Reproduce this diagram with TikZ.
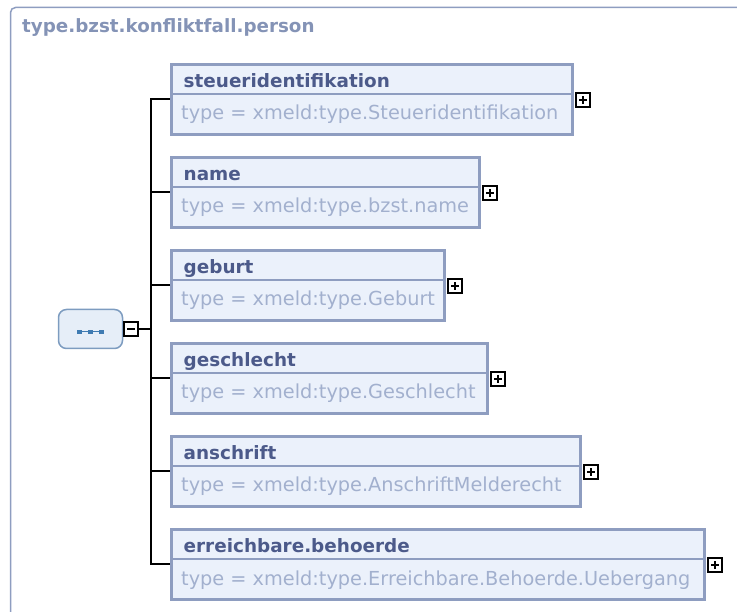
\documentclass[tikz,border=0pt]{standalone}
\usepackage{fontspec}
\setmainfont{DejaVu Sans}
\usetikzlibrary{calc}
\definecolor{frameC}{HTML}{8E9DC0}
\definecolor{titleC}{HTML}{8493B6}
\definecolor{headC}{HTML}{4C5A8A}
\definecolor{typeC}{HTML}{A2B0CE}
\definecolor{boxFill}{HTML}{EBF1FB}
\definecolor{boxLine}{HTML}{8E9DC0}
\definecolor{seqFill}{HTML}{E6EEF8}
\definecolor{seqLine}{HTML}{7D9CC0}
\definecolor{seqIcon}{HTML}{3F7BB2}
\tikzset{
  elbox/.style={draw=boxLine, fill=boxFill, line width=3pt, rectangle, anchor=north west, minimum height=70pt, inner sep=0pt},
  divline/.style={draw=boxLine, line width=1.8pt},
  headtxt/.style={anchor=base west, text=headC, font=\fontsize{18.4}{22}\selectfont\bfseries, inner sep=0pt},
  typetxt/.style={anchor=base west, text=typeC, font=\fontsize{19.3}{22}\selectfont, inner sep=0pt},
  conn/.style={draw=black, line width=2pt},
  pmbox/.style={draw=black, fill=white, line width=1.6pt, minimum size=14pt, inner sep=0pt, rectangle},
  plusbox/.style={pmbox, path picture={
      \draw[line width=1.6pt] ([xshift=-4pt]path picture bounding box.center) -- ([xshift=4pt]path picture bounding box.center);
      \draw[line width=1.6pt] ([yshift=-4pt]path picture bounding box.center) -- ([yshift=4pt]path picture bounding box.center);}},
  minusbox/.style={pmbox, path picture={
      \draw[line width=1.6pt] ([xshift=-4pt]path picture bounding box.center) -- ([xshift=4pt]path picture bounding box.center);}},
}
\begin{document}
\begin{tikzpicture}[x=1pt, y=-1pt]
\useasboundingbox (0,0) rectangle (737,612);
% outer frame
\draw[draw=frameC, line width=1.5pt, rounded corners=5pt] (10.5,640) -- (10.5,7.5) -- (760,7.5);
\node[anchor=base west, text=titleC, font=\fontsize{18.3}{22}\selectfont\bfseries, inner sep=0pt] (title) at (22,33) {type.bzst.konfliktfall.person};

% sequence compositor
\node[draw=seqLine, fill=seqFill, line width=1.5pt, rounded corners=8pt, minimum width=64pt, minimum height=39pt, inner sep=0pt] (seq) at (90.5,329) {};
\draw[seqIcon, line width=1pt] ($(seq.center)+(-11,3)$) -- ($(seq.center)+(11,3)$);
\foreach \dx in {-11,0,11} {
  \fill[seqIcon] ($(seq.center)+(\dx,3)+(-2.3,-2.3)$) rectangle ($(seq.center)+(\dx,3)+(2.3,2.3)$);
}
\node[minusbox] (minus) at (131,329) {};
\coordinate (trunkmid) at (151,329);
\draw[conn] (minus.east) -- (trunkmid);

% element boxes
\foreach \i/\name/\type/\w in {
  1/steueridentifikation/xmeld:type.Steueridentifikation/401,
  2/name/xmeld:type.bzst.name/308,
  3/geburt/xmeld:type.Geburt/273,
  4/geschlecht/xmeld:type.Geschlecht/316,
  5/anschrift/xmeld:type.AnschriftMelderecht/409,
  6/erreichbare.behoerde/xmeld:type.Erreichbare.Behoerde.Uebergang/533} {
  \pgfmathsetmacro{\T}{63+93*(\i-1)}
  \node[elbox, minimum width=\w pt] (b\i) at (170,\T) {};
  \draw[divline] ($(b\i.north west)+(1.5,31)$) -- ($(b\i.north east)+(-1.5,31)$);
  \node[headtxt] (h\i) at ($(b\i.north west)+(13.5,24.5)$) {\name};
  \node[typetxt] (t\i) at ($(b\i.north west)+(11,57)$) {type = \type};
  \coordinate (c\i) at (151,\T+36);
  \draw[conn] (c\i) -- (c\i -| b\i.west);
  \node[plusbox] (p\i) at ($(b\i.north east)+(9,37)$) {};
}
\draw[conn, line cap=rect] (c1) -- (c6);
\end{tikzpicture}
\end{document}
